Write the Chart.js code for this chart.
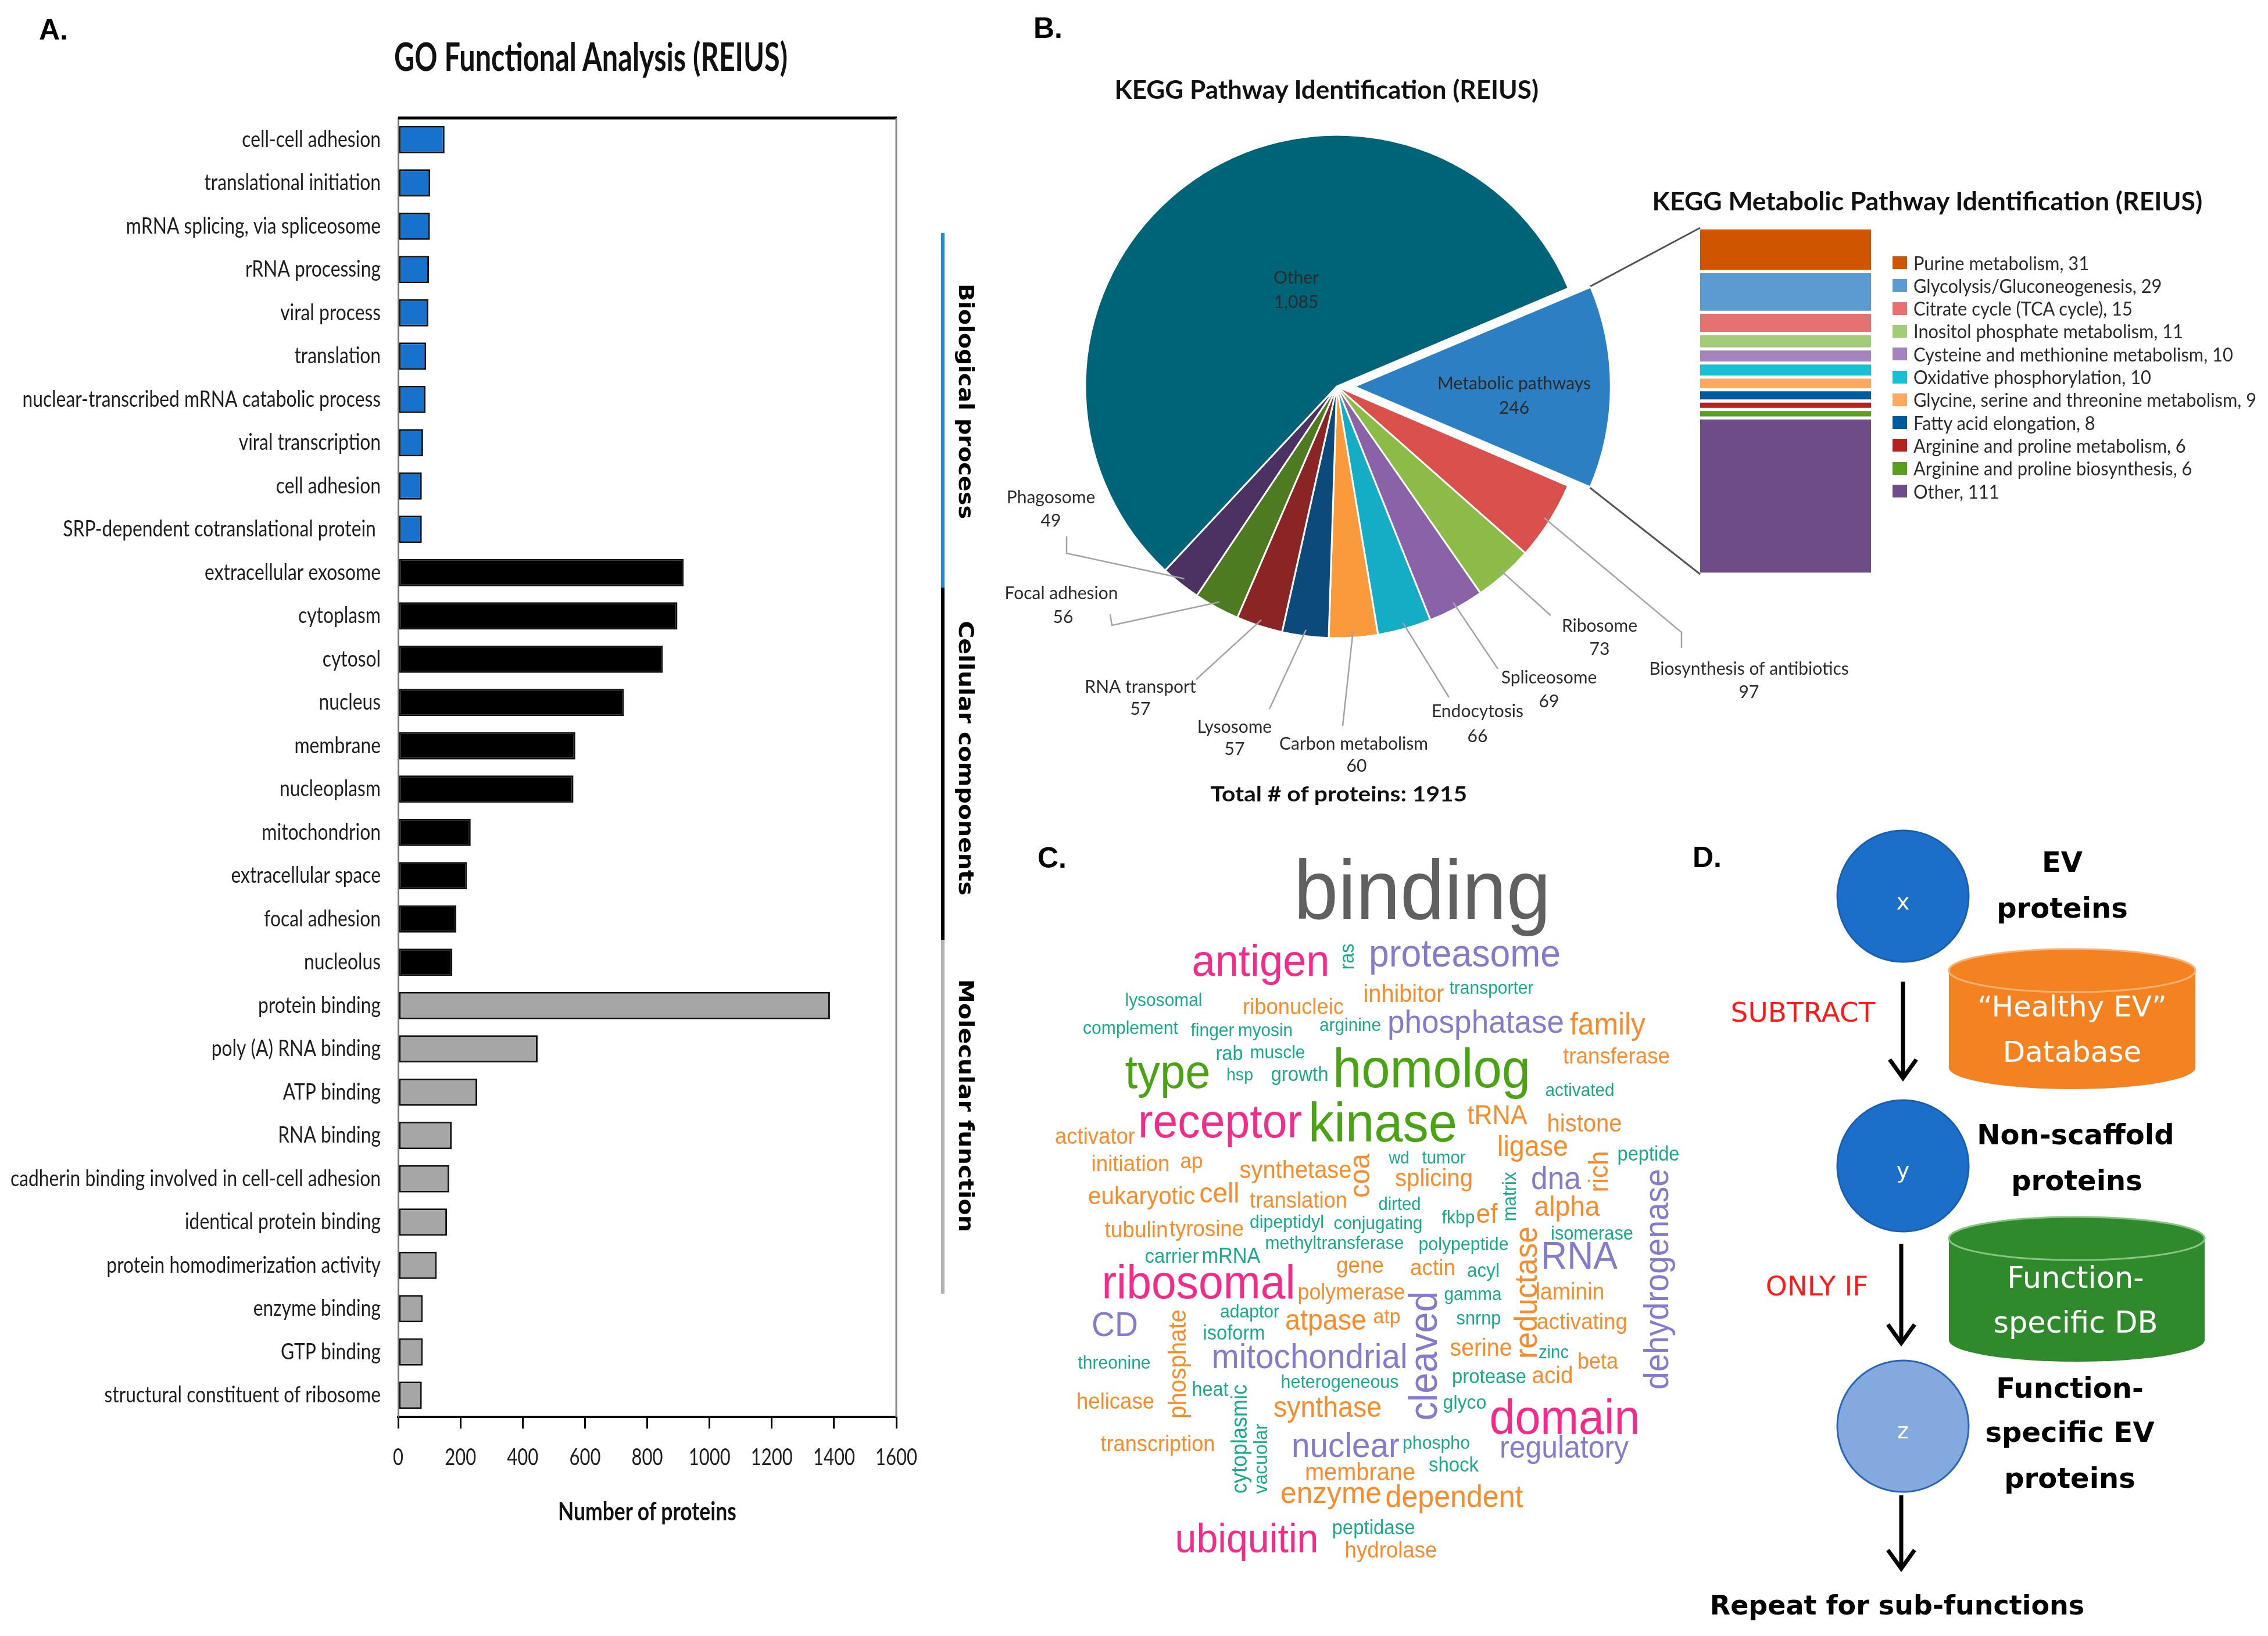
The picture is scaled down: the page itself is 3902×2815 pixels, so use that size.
<!DOCTYPE html>
<html><head><meta charset="utf-8">
<script src="https://cdn.jsdelivr.net/npm/chart.js@4.4.1/dist/chart.umd.min.js"></script>
<style>
html,body{margin:0;padding:0;background:#fff;}
#page{position:relative;width:3902px;height:2815px;overflow:hidden;background:#fff;}
canvas,svg{position:absolute;display:block;}
.t{position:absolute;white-space:nowrap;line-height:1;}
</style></head><body><div id="page">
<canvas id="goChart" width="1700" height="2700" style="left:0;top:0"></canvas>
<canvas id="pieChart" width="1600" height="1450" style="left:1700px;top:0"></canvas>
<canvas id="stackChart" width="340" height="640" style="left:2900px;top:370px"></canvas>
<canvas id="cloud" width="1200" height="1400" style="left:1750px;top:1400px"></canvas>
<canvas id="overlay" width="3902" height="2815" style="left:0;top:0;pointer-events:none"></canvas>
<svg id="flow" width="3902" height="2815" style="left:0;top:0;pointer-events:none" xmlns="http://www.w3.org/2000/svg"></svg>
</div>
<script>
// ================= DATA =================
const goTerms = ['cell-cell adhesion','translational initiation','mRNA splicing, via spliceosome','rRNA processing','viral process','translation','nuclear-transcribed mRNA catabolic process','viral transcription','cell adhesion','SRP-dependent cotranslational protein ',
 'extracellular exosome','cytoplasm','cytosol','nucleus','membrane','nucleoplasm','mitochondrion','extracellular space','focal adhesion','nucleolus',
 'protein binding','poly (A) RNA binding','ATP binding','RNA binding','cadherin binding involved in cell-cell adhesion','identical protein binding','protein homodimerization activity','enzyme binding','GTP binding','structural constituent of ribosome'];
const goCounts = [149,103,102,99,97,90,88,80,76,76,
 917,897,850,725,569,563,233,221,187,174,
 1387,448,254,172,164,157,124,79,79,76];
const goGroup = ['BP','BP','BP','BP','BP','BP','BP','BP','BP','BP',
 'CC','CC','CC','CC','CC','CC','CC','CC','CC','CC',
 'MF','MF','MF','MF','MF','MF','MF','MF','MF','MF'];
const goGroupNames = ['Biological process','Cellular components','Molecular function'];
const goTicks = [0,200,400,600,800,1000,1200,1400,1600];

const keggNames = ['Metabolic pathways','Biosynthesis of antibiotics','Ribosome','Spliceosome','Endocytosis','Carbon metabolism','Lysosome','RNA transport','Focal adhesion','Phagosome','Other'];
const keggCounts = [246,97,73,69,66,60,57,57,56,49,1085];
const keggTotal = 1915;

const metaNames = ['Purine metabolism','Glycolysis/Gluconeogenesis','Citrate cycle (TCA cycle)','Inositol phosphate metabolism','Cysteine and methionine metabolism','Oxidative phosphorylation','Glycine, serine and threonine metabolism','Fatty acid elongation','Arginine and proline metabolism','Arginine and proline biosynthesis','Other'];
const metaCounts = [31,29,15,11,10,10,9,8,6,6,111];

const cloudWords = ['binding','antigen','ras','proteasome','inhibitor','transporter','lysosomal','ribonucleic','complement','finger','myosin','arginine','phosphatase','family','type','rab','muscle','hsp','growth','homolog','transferase','activated','activator','receptor','kinase','tRNA','histone','ligase','initiation','ap','synthetase','coa','wd','tumor','splicing','matrix','dna','rich','peptide','eukaryotic','cell','translation','dirted','fkbp','ef','alpha','dehydrogenase','tubulin','tyrosine','dipeptidyl','conjugating','methyltransferase','polypeptide','isomerase','carrier','mRNA','gene','actin','acyl','reductase','RNA','ribosomal','polymerase','cleaved','gamma','laminin','adaptor','CD','phosphate','isoform','atpase','atp','snrnp','activating','mitochondrial','serine','zinc','beta','threonine','heterogeneous','protease','acid','helicase','heat','cytoplasmic','vacuolar','synthase','glyco','domain','transcription','nuclear','phospho','regulatory','membrane','shock','enzyme','dependent','ubiquitin','peptidase','hydrolase'];

// ================= STYLE / LAYOUT =================
const GROUP_FILL = {BP:'#1672cc', CC:'#000000', MF:'#a6a6a6'};
const GROUP_LINE = {BP:'#1d8fe2', CC:'#000000', MF:'#b3b3b3'};
const KEGG_COLORS = ['#2b7fc2','#d9504c','#8dbb48','#8a62a8','#15acc6','#fb9a3c','#0c4a7c','#8b2424','#4e7a22','#4b3262','#006479'];
const META_COLORS = ['#d05500','#5b9bd2','#e57171','#a3cc78','#a583bf','#1bbfd4','#ffa85f','#005a9c','#b52020','#5a9e1e','#6d4c87'];
const CLOUD_COLORS = {g:'#606060',p:'#f52b8c',u:'#857bcc',t:'#19a98c',o:'#f98c2a',n:'#4aa312'};
// [centerX, centerY, length, vertical, colour key]
const cloudPlacement = [
[2447,1543,442,0,'g'],[2169,1659,237,0,'p'],[2320,1646,45,1,'t'],[2520,1646,330,0,'u'],[2415,1713,139,0,'o'],[2566,1702,145,0,'t'],[2002,1723,133,0,'t'],[2225,1735,174,0,'o'],[1945,1771,164,0,'t'],[2086,1775,75,0,'t'],[2177,1775,94,0,'t'],[2323,1766,106,0,'t'],[2539,1762,304,0,'u'],[2766,1766,130,0,'o'],[2009,1851,147,0,'n'],[2115,1815,47,0,'t'],[2198,1813,95,0,'t'],[2133,1851,46,0,'t'],[2236,1851,99,0,'t'],[2463,1847,340,0,'n'],[2781,1820,184,0,'o'],[2718,1878,119,0,'t'],[1884,1958,138,0,'o'],[2099,1936,282,0,'p'],[2379,1940,256,0,'n'],[2576,1922,103,0,'o'],[2726,1936,129,0,'o'],[2637,1976,122,0,'o'],[1945,2005,135,0,'o'],[2050,2000,39,0,'o'],[2229,2016,193,0,'o'],[2343,2023,76,1,'o'],[2407,1994,35,0,'t'],[2484,1994,75,0,'t'],[2467,2030,134,0,'o'],[2599,2059,85,1,'t'],[2677,2032,86,0,'u'],[2754,2016,71,1,'o'],[2836,1988,107,0,'t'],[1964,2061,184,0,'o'],[2098,2056,69,0,'o'],[2234,2068,168,0,'o'],[2408,2074,73,0,'t'],[2509,2097,57,0,'t'],[2558,2092,37,0,'o'],[2696,2079,113,0,'o'],[2855,2201,380,1,'u'],[1955,2119,109,0,'o'],[2076,2117,128,0,'o'],[2214,2105,128,0,'t'],[2371,2107,153,0,'t'],[2296,2141,239,0,'t'],[2518,2143,155,0,'t'],[2739,2125,142,0,'t'],[2016,2164,93,0,'t'],[2118,2164,101,0,'t'],[2340,2180,82,0,'o'],[2465,2184,78,0,'o'],[2552,2188,56,0,'t'],[2630,2224,228,1,'o'],[2717,2166,132,0,'u'],[2062,2213,333,0,'p'],[2325,2226,185,0,'o'],[2454,2333,223,1,'u'],[2534,2229,99,0,'t'],[2701,2226,119,0,'o'],[2150,2259,102,0,'t'],[1918,2284,80,0,'u'],[2029,2347,188,1,'o'],[2123,2296,107,0,'t'],[2281,2275,140,0,'o'],[2386,2268,47,0,'o'],[2544,2271,77,0,'t'],[2722,2277,156,0,'o'],[2253,2338,337,0,'u'],[2548,2322,107,0,'o'],[2673,2329,52,0,'t'],[2749,2345,70,0,'o'],[1917,2347,125,0,'t'],[2305,2380,203,0,'t'],[2562,2371,128,0,'t'],[2671,2369,71,0,'o'],[1919,2414,134,0,'o'],[2082,2393,63,0,'t'],[2135,2476,188,1,'t'],[2171,2510,121,1,'t'],[2284,2425,186,0,'o'],[2520,2415,75,0,'t'],[2692,2445,259,0,'p'],[1992,2487,197,0,'o'],[2315,2491,186,0,'u'],[2471,2485,116,0,'t'],[2691,2494,222,0,'u'],[2340,2536,190,0,'o'],[2501,2523,86,0,'t'],[2290,2572,174,0,'o'],[2502,2579,237,0,'o'],[2145,2653,247,0,'p'],[2363,2631,143,0,'t'],[2393,2670,159,0,'o']];

// pie label layout, px relative to pie centre: name pos, value pos, leader path (ends on slice)
const pieLabelLayout = [
 {n:[305,-5],v:[305,37],line:null},
 {n:[709,486],v:[709,526],line:[[593,450],[593,423]]},
 {n:[452,412],v:[452,452],line:[[368,394]]},
 {n:[365,501],v:[365,542],line:[[277,486]]},
 {n:[242,559],v:[242,602],line:[[193,535]]},
 {n:[29,615],v:[34,653],line:[[10,584]]},
 {n:[-176,586],v:[-176,624],line:[[-116,555]]},
 {n:[-338,517],v:[-338,555],line:[[-242,504]]},
 {n:[-474,356],v:[-471,397],line:[[-390,392],[-387,411]]},
 {n:[-492,191],v:[-492,231],line:[[-465,258],[-465,287]]},
 {n:[-70,-187],v:[-70,-145],line:null}];
const PIE_EXPLODE = 120;

const page = document.getElementById('page');
function txt(s, x, y, o) {
  const el = document.createElement('div');
  el.className = 't'; el.textContent = s;
  el.style.font = (o.weight || 'normal') + ' ' + o.size + 'px ' + o.family;
  el.style.color = o.color || '#000';
  page.appendChild(el);
  const w = el.offsetWidth, h = el.offsetHeight;
  const sx = o.w ? o.w / w : (o.sx || 1);
  const al = o.align || 'center';
  el.style.left = (al === 'center' ? x - w / 2 : al === 'left' ? x : x - w) + 'px';
  el.style.top = (y - h / 2) + 'px';
  el.style.transformOrigin = al === 'center' ? '50% 50%' : al === 'left' ? '0 50%' : '100% 50%';
  el.style.transform = (o.rot ? 'rotate(' + o.rot + 'deg) ' : '') + 'scaleX(' + sx + ')';
  return el;
}
function squishText(ctx, s, x, y, sx) {
  ctx.save(); ctx.translate(x, y); ctx.scale(sx, 1); ctx.fillText(s, 0, 0); ctx.restore();
}

// ================= PANEL A =================
const goPlugin = {
  id: 'goDecor',
  afterDraw(chart) {
    const ctx = chart.ctx, ca = chart.chartArea, ys = chart.scales.y, xs = chart.scales.x;
    ctx.save();
    ctx.strokeStyle = '#000'; ctx.lineWidth = 5;
    ctx.beginPath(); ctx.moveTo(ca.left, ca.top); ctx.lineTo(ca.right + 1, ca.top); ctx.stroke();
    ctx.strokeStyle = '#8c8c8c'; ctx.lineWidth = 3;
    ctx.beginPath(); ctx.moveTo(ca.right, ca.top); ctx.lineTo(ca.right, ca.bottom); ctx.stroke();
    ctx.fillStyle = '#1e1e1e'; ctx.font = '38px "Lato"'; ctx.textAlign = 'right'; ctx.textBaseline = 'middle';
    const sxY = 637 / ctx.measureText('cadherin binding involved in cell-cell adhesion').width;
    chart.data.labels.forEach((lab, i) => squishText(ctx, lab, ca.left - 30, ys.getPixelForValue(i), sxY));
    ctx.font = '40px "Lato"'; ctx.textAlign = 'center';
    const sxX = 72 / ctx.measureText('1600').width;
    xs.ticks.forEach(t => squishText(ctx, String(t.value), xs.getPixelForValue(t.value), ca.bottom + 70, sxX));
    ctx.restore();
  }
};
const goChart = new Chart(document.getElementById('goChart'), {
  type: 'bar',
  data: { labels: goTerms, datasets: [{ data: goCounts,
    backgroundColor: goGroup.map(g => GROUP_FILL[g]), borderColor: '#111', borderWidth: 3, borderSkipped: false,
    barPercentage: 0.63, categoryPercentage: 1 }] },
  options: {
    indexAxis: 'y', responsive: false, animation: false, events: [],
    layout: { padding: { left: 0, right: 158, top: 203, bottom: 162 } },
    plugins: { legend: { display: false }, tooltip: { enabled: false } },
    scales: {
      x: { min: 0, max: 1600, ticks: { display: false, stepSize: 200 },
           grid: { drawOnChartArea: false, drawTicks: true, tickLength: 20, color: '#000', lineWidth: 3 },
           border: { display: true, color: '#000', width: 4 },
           afterFit(s) { s.height = 100; } },
      y: { ticks: { display: false }, grid: { display: false },
           border: { display: true, color: '#7a7a7a', width: 3 },
           afterFit(s) { s.width = 685; } }
    }
  },
  plugins: [goPlugin]
});

const bracketSpans = [[401, 1011], [1011, 1617], [1617, 2226]];
['BP','CC','MF'].forEach((g, i) => {
  const d = document.createElement('div');
  d.style.cssText = 'position:absolute;left:1619px;width:6px;top:' + bracketSpans[i][0] + 'px;height:' + (bracketSpans[i][1] - bracketSpans[i][0]) + 'px;background:' + GROUP_LINE[g];
  page.appendChild(d);
});
txt(goGroupNames[0], 1662, 690, {size: 36, weight: 'bold', family: '"DejaVu Sans"', rot: 90, w: 405});
txt(goGroupNames[1], 1662, 1304, {size: 36, weight: 'bold', family: '"DejaVu Sans"', rot: 90, w: 472});
txt(goGroupNames[2], 1662, 1902, {size: 36, weight: 'bold', family: '"DejaVu Sans"', rot: 90, w: 435});
txt('GO Functional Analysis (REIUS)', 1016, 96, {size: 66, weight: 'bold', family: '"Lato"', w: 677, color: '#111'});
txt('Number of proteins', 1113, 2599, {size: 44, weight: 'bold', family: '"Lato"', w: 307, color: '#111'});
txt('A.', 92, 51, {size: 50, weight: 'bold', family: '"Liberation Sans"'});
txt('B.', 1803, 48, {size: 50, weight: 'bold', family: '"Liberation Sans"'});
txt('C.', 1810, 1476, {size: 50, weight: 'bold', family: '"Liberation Sans"'});
txt('D.', 2937, 1475, {size: 50, weight: 'bold', family: '"Liberation Sans"'});

// ================= PANEL B : pie =================
const piePlugin = {
  id: 'pieLabels',
  afterDraw(chart) {
    const ctx = chart.ctx, meta = chart.getDatasetMeta(0);
    const cx = meta.data[meta.data.length - 1].x, cy = meta.data[meta.data.length - 1].y;
    ctx.save();
    ctx.strokeStyle = '#a3a3a3'; ctx.lineWidth = 2.5;
    meta.data.forEach((arc, i) => {
      const L = pieLabelLayout[i];
      if (!L.line) return;
      const mid = (arc.startAngle + arc.endAngle) / 2;
      ctx.beginPath();
      L.line.forEach((p, k) => { k === 0 ? ctx.moveTo(cx + p[0], cy + p[1]) : ctx.lineTo(cx + p[0], cy + p[1]); });
      ctx.lineTo(cx + Math.cos(mid) * arc.outerRadius * 0.975, cy + Math.sin(mid) * arc.outerRadius * 0.975);
      ctx.stroke();
    });
    ctx.fillStyle = '#2b2b2b'; ctx.font = '30px "Lato"'; ctx.textAlign = 'center'; ctx.textBaseline = 'middle';
    chart.data.labels.forEach((name, i) => {
      const L = pieLabelLayout[i];
      ctx.fillText(name, cx + L.n[0], cy + L.n[1]);
      ctx.fillText(chart.data.datasets[0].data[i].toLocaleString('en-US'), cx + L.v[0], cy + L.v[1]);
    });
    ctx.restore();
  }
};
const pieChart = new Chart(document.getElementById('pieChart'), {
  type: 'pie',
  data: { labels: keggNames, datasets: [{ data: keggCounts, backgroundColor: KEGG_COLORS,
    borderColor: '#ffffff', borderWidth: 3,
    offset: keggNames.map((n, i) => i === 0 ? PIE_EXPLODE : 0) }] },
  options: { responsive: false, animation: false, events: [], rotation: 67, radius: 433,
    layout: { padding: { left: 0, right: 400, top: 0, bottom: 120 } },
    plugins: { legend: { display: false }, tooltip: { enabled: false } } },
  plugins: [piePlugin]
});
txt('KEGG Pathway Identification (REIUS)', 2282, 153, {size: 44, weight: 'bold', family: '"Lato"', w: 730, color: '#111'});
txt('Total # of proteins: ' + keggTotal, 2303, 1365, {size: 36, weight: 'bold', family: '"Lato"', w: 442, color: '#111'});

// ================= PANEL B : stacked bar =================
const stackChart = new Chart(document.getElementById('stackChart'), {
  type: 'bar',
  data: { labels: ['Metabolic pathways'], datasets: metaNames.map((n, i) => ({ label: n, data: [metaCounts[i]],
    backgroundColor: META_COLORS[i], borderColor: '#ffffff', borderWidth: {top: 3, bottom: 3, left: 0, right: 0},
    borderSkipped: false, barPercentage: 1, categoryPercentage: 1 })) },
  options: { responsive: false, animation: false, events: [],
    layout: { padding: { left: 25, right: 21, top: 22, bottom: 22 } },
    plugins: { legend: { display: false }, tooltip: { enabled: false } },
    scales: { x: { stacked: true, display: false }, y: { stacked: true, display: false, reverse: true, min: 0, max: metaCounts.reduce((a, b) => a + b, 0) } } }
});
txt('KEGG Metabolic Pathway Identification (REIUS)', 3316, 345, {size: 44, weight: 'bold', family: '"Lato"', w: 947, color: '#111'});
(function () {
  const mc = document.createElement('canvas').getContext('2d');
  mc.font = '32px "Lato"';
  const legendSx = Math.min(1, 590 / mc.measureText('Glycine, serine and threonine metabolism, 9').width);
  metaNames.forEach((n, i) => {
    const y = 452 + i * 39.3;
    const m = document.createElement('div');
    m.style.cssText = 'position:absolute;left:3256px;top:' + (y - 11) + 'px;width:25px;height:22px;background:' + META_COLORS[i];
    page.appendChild(m);
    txt(n + ', ' + metaCounts[i], 3292, y, {size: 32, family: '"Lato"', align: 'left', color: '#2b2b2b', sx: legendSx});
  });
})();

// connectors pie slice -> stacked bar
(function () {
  const o = document.getElementById('overlay').getContext('2d');
  const arc = pieChart.getDatasetMeta(0).data[0];
  const t = PIE_EXPLODE / 4, s = arc.startAngle, e = arc.endAngle, mid = (s + e) / 2;
  const R = arc.outerRadius + t * (1 - Math.sin(Math.min(Math.PI, e - s)));
  const ox = 1700 + arc.x + Math.cos(mid) * t, oy = 0 + arc.y + Math.sin(mid) * t;
  const ca = stackChart.chartArea;
  o.strokeStyle = '#555'; o.lineWidth = 3;
  o.beginPath(); o.moveTo(ox + R * Math.cos(s), oy + R * Math.sin(s)); o.lineTo(2900 + ca.left, 370 + ca.top); o.stroke();
  o.beginPath(); o.moveTo(ox + R * Math.cos(e), oy + R * Math.sin(e)); o.lineTo(2900 + ca.left, 370 + ca.bottom); o.stroke();
})();

// ================= PANEL C : word cloud =================
(function () {
  const c = document.getElementById('cloud').getContext('2d');
  c.textAlign = 'center'; c.textBaseline = 'alphabetic';
  cloudWords.forEach((w, i) => {
    const [x, y, len, vert, ck] = cloudPlacement[i];
    c.font = '100px "Liberation Sans"';
    const size = len / c.measureText(w).width * 100;
    c.font = size + 'px "Liberation Sans"';
    c.fillStyle = CLOUD_COLORS[ck];
    c.save(); c.translate(x - 1750, y - 1400); if (vert) c.rotate(-Math.PI / 2);
    c.scale(1, 1.06);
    c.fillText(w, 0, 0.26 * size);
    c.restore();
  });
})();

// ================= PANEL D : flow =================
(function () {
  const svg = document.getElementById('flow');
  const NS = 'http://www.w3.org/2000/svg';
  function el(tag, attrs, text) {
    const e = document.createElementNS(NS, tag);
    for (const k in attrs) e.setAttribute(k, attrs[k]);
    if (text !== undefined) e.textContent = text;
    svg.appendChild(e); return e;
  }
  function cyl(x1, x2, top, bot, ry, fill, rim) {
    const rx = (x2 - x1) / 2, cx = (x1 + x2) / 2;
    el('path', {d: `M${x1} ${top} L${x1} ${bot} A${rx} ${ry} 0 0 0 ${x2} ${bot} L${x2} ${top} Z`, fill: fill});
    el('ellipse', {cx: cx, cy: top, rx: rx, ry: ry, fill: fill, stroke: rim, 'stroke-width': 3});
  }
  function arrow(x, y1, y2) {
    el('line', {x1: x, y1: y1, x2: x, y2: y2 - 3, stroke: '#000', 'stroke-width': 7});
    el('polyline', {points: `${x - 23},${y2 - 32} ${x},${y2} ${x + 23},${y2 - 32}`, fill: 'none', stroke: '#000', 'stroke-width': 7, 'stroke-linejoin': 'miter'});
  }
  const T = (s, x, y, size, opts) => el('text', Object.assign({x: x, y: y, 'font-family': 'DejaVu Sans', 'font-size': size, 'text-anchor': 'middle', 'dominant-baseline': 'central'}, opts || {}), s);
  el('circle', {cx: 3274, cy: 1542, r: 113, fill: '#1c6fc9', stroke: '#195fb0', 'stroke-width': 3});
  el('circle', {cx: 3274, cy: 2006, r: 113, fill: '#1c6fc9', stroke: '#195fb0', 'stroke-width': 3});
  el('circle', {cx: 3274, cy: 2454, r: 113, fill: '#84a9de', stroke: '#2a66b8', 'stroke-width': 3});
  T('x', 3274, 1552, 38, {fill: '#fff'});
  T('y', 3274, 2014, 38, {fill: '#fff'});
  T('z', 3274, 2462, 38, {fill: '#fff'});
  cyl(3353, 3777, 1670, 1837, 37, '#f58220', '#fbb27a');
  cyl(3353, 3793, 2131, 2306, 37, '#2f8a2c', '#86c582');
  T('\u201CHealthy EV\u201D', 3565, 1732, 50, {fill: '#fff'});
  T('Database', 3565, 1810, 50, {fill: '#fff'});
  T('Function-', 3571, 2198, 51, {fill: '#fff'});
  T('specific DB', 3571, 2275, 51, {fill: '#fff'});
  arrow(3274, 1689, 1855);
  arrow(3271, 2140, 2311);
  arrow(3271, 2573, 2699);
  T('SUBTRACT', 3102, 1741, 47, {fill: '#ff1a1a'});
  T('ONLY IF', 3126, 2212, 47, {fill: '#ff1a1a'});
  const B = {'font-weight': 'bold', fill: '#000'};
  T('EV', 3548, 1483, 48, B); T('proteins', 3548, 1562, 48, B);
  T('Non-scaffold', 3571, 1952, 48, B); T('proteins', 3573, 2031, 48, B);
  T('Function-', 3561, 2388, 48, B); T('specific EV', 3561, 2464, 48, B); T('proteins', 3561, 2543, 48, B);
  T('Repeat for sub-functions', 3264, 2762, 46, B);
})();
</script>
</body></html>
